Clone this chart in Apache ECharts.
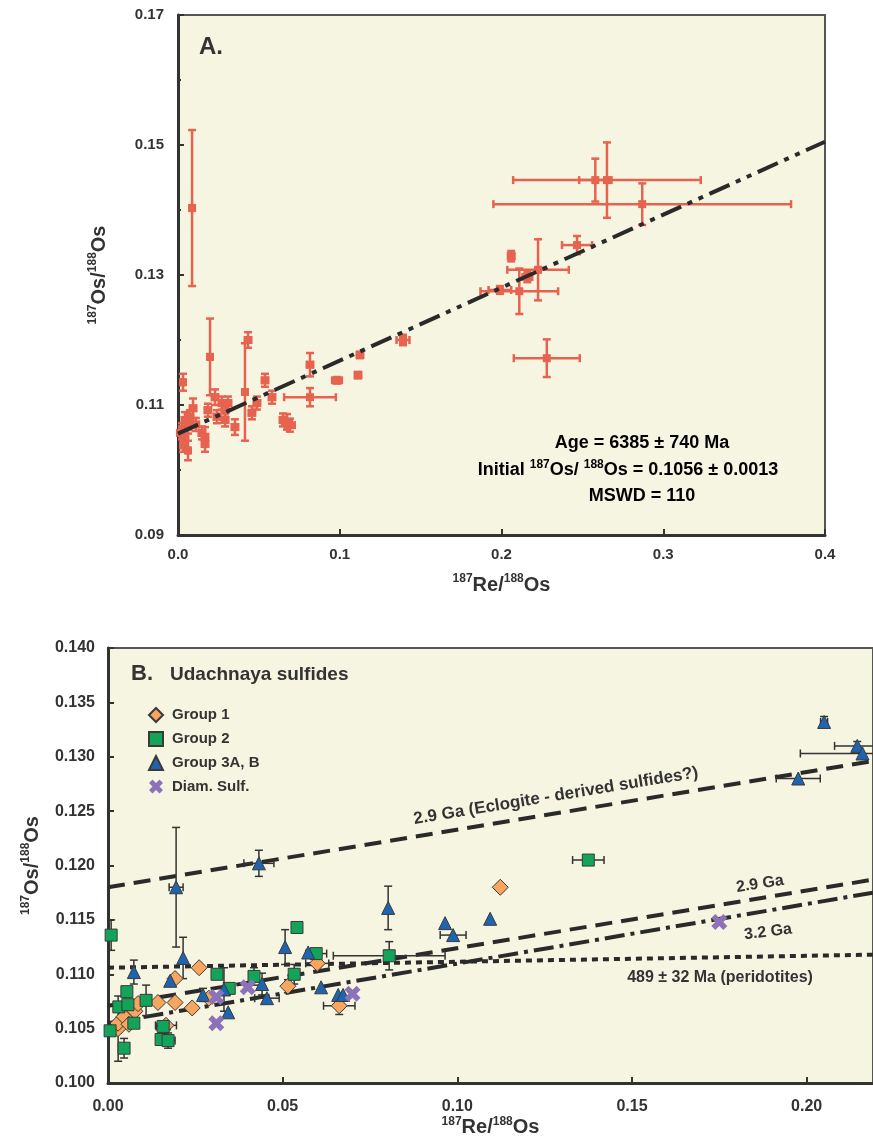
<!DOCTYPE html>
<html>
<head>
<meta charset="utf-8">
<script src="https://cdn.jsdelivr.net/npm/echarts@6/dist/echarts.min.js"></script>
<style>
html, body { margin: 0; padding: 0; background: #fff; }
#main { width: 873px; height: 1141px; }
</style>
</head>
<body>
<div id="main"></div>
<script>
// ---- panel A: [187Re/188Os, 187Os/188Os, xerr, yerr] ----
var pointsA = [
    [0.0087, 0.1403, 0.001, 0.012],
    [0.0198, 0.1174, 0.001, 0.0059],
    [0.0433, 0.1200, 0.002, 0.0012],
    [0.0414, 0.1120, 0.001, 0.0075],
    [0.0031, 0.1135, 0.001, 0.0013],
    [0.0093, 0.1095, 0.002, 0.0015],
    [0.0538, 0.1138, 0.002, 0.0010],
    [0.0581, 0.1112, 0.002, 0.0010],
    [0.0816, 0.1162, 0.002, 0.0018],
    [0.0816, 0.1112, 0.016, 0.0014],
    [0.0983, 0.1138, 0.003, 0.0005],
    [0.1125, 0.1177, 0.002, 0.0005],
    [0.1113, 0.1146, 0.002, 0.0005],
    [0.1391, 0.1200, 0.004, 0.0008],
    [0.0674, 0.1074, 0.003, 0.0012],
    [0.0692, 0.1069, 0.003, 0.0010],
    [0.0649, 0.1077, 0.002, 0.0010],
    [0.0488, 0.1103, 0.002, 0.0010],
    [0.0457, 0.1088, 0.002, 0.0010],
    [0.0309, 0.1103, 0.002, 0.0010],
    [0.0352, 0.1066, 0.002, 0.0012],
    [0.0291, 0.1077, 0.002, 0.0010],
    [0.0241, 0.1082, 0.002, 0.0010],
    [0.0185, 0.1092, 0.002, 0.0010],
    [0.0272, 0.1103, 0.002, 0.0010],
    [0.0229, 0.1112, 0.002, 0.0012],
    [0.0291, 0.1092, 0.002, 0.0010],
    [0.0043, 0.1077, 0.002, 0.0012],
    [0.0025, 0.1062, 0.002, 0.0010],
    [0.0062, 0.1066, 0.002, 0.0010],
    [0.0148, 0.1057, 0.002, 0.0010],
    [0.0167, 0.1051, 0.002, 0.0015],
    [0.0167, 0.1040, 0.002, 0.0012],
    [0.0043, 0.1051, 0.002, 0.0010],
    [0.0031, 0.1038, 0.001, 0.0010],
    [0.0062, 0.1030, 0.001, 0.0015],
    [0.0012, 0.1057, 0.001, 0.0010],
    [0.0074, 0.1082, 0.002, 0.0010],
    [0.0110, 0.1070, 0.002, 0.0010],
    [0.2652, 0.1446, 0.058, 0.0058],
    [0.2580, 0.1446, 0.010, 0.0033],
    [0.2870, 0.1409, 0.092, 0.0032],
    [0.2467, 0.1346, 0.0093, 0.0014],
    [0.2060, 0.1329, 0.002, 0.0008],
    [0.2226, 0.1308, 0.019, 0.0047],
    [0.2110, 0.1275, 0.024, 0.0035],
    [0.2160, 0.1297, 0.003, 0.0008],
    [0.1990, 0.1277, 0.007, 0.0006],
    [0.2280, 0.1172, 0.0204, 0.0029]
];
var isochronA = [[0, 0.1056], [0.4, 0.1505]];
var xTicksA = [0, 0.1, 0.2, 0.3, 0.4];
var yTicksA = [0.09, 0.11, 0.13, 0.15, 0.17];

// ---- panel B: [187Re/188Os, 187Os/188Os, xerr, yerr] ----
var group1 = [
    [0.0029, 0.1050, 0, 0.0030],
    [0.0029, 0.1055, 0, 0],
    [0.0046, 0.1061, 0, 0],
    [0.0060, 0.1054, 0, 0],
    [0.0077, 0.1066, 0, 0],
    [0.0086, 0.1073, 0, 0],
    [0.0143, 0.1074, 0, 0],
    [0.0192, 0.1074, 0, 0],
    [0.0241, 0.1069, 0, 0],
    [0.0166, 0.1053, 0.003, 0],
    [0.0192, 0.1096, 0, 0],
    [0.0261, 0.1106, 0, 0],
    [0.0289, 0.1078, 0, 0],
    [0.0515, 0.1089, 0, 0.0006],
    [0.0599, 0.1110, 0.0033, 0],
    [0.0662, 0.1071, 0.0045, 0.0008],
    [0.1123, 0.1180, 0.001, 0]
];
var group2 = [
    [0.0009, 0.1136, 0, 0.0014],
    [0.0006, 0.1048, 0, 0],
    [0.0054, 0.1084, 0, 0],
    [0.0031, 0.1070, 0, 0],
    [0.0057, 0.1072, 0, 0],
    [0.0109, 0.1076, 0, 0.0014],
    [0.0074, 0.1055, 0, 0],
    [0.0046, 0.1032, 0, 0.0009],
    [0.0158, 0.1052, 0.002, 0],
    [0.0152, 0.1040, 0, 0],
    [0.0172, 0.1039, 0.002, 0.0007],
    [0.0312, 0.1100, 0, 0],
    [0.0347, 0.1087, 0, 0],
    [0.0418, 0.1098, 0, 0.0008],
    [0.0533, 0.1100, 0, 0.0009],
    [0.0541, 0.1143, 0, 0],
    [0.0596, 0.1119, 0.003, 0],
    [0.0805, 0.1117, 0.016, 0.0013],
    [0.1375, 0.1205, 0.0045, 0]
];
var group3 = [
    [0.0074, 0.1102, 0, 0.0011],
    [0.0195, 0.1180, 0.002, 0.0055],
    [0.0215, 0.1115, 0, 0.0019],
    [0.0432, 0.1202, 0.0043, 0.0012],
    [0.0178, 0.1094, 0, 0],
    [0.0272, 0.1081, 0, 0.0006],
    [0.0332, 0.1086, 0, 0.0020],
    [0.0344, 0.1065, 0, 0],
    [0.0441, 0.1091, 0, 0.0010],
    [0.0455, 0.1078, 0.0035, 0],
    [0.0507, 0.1125, 0, 0.0016],
    [0.0573, 0.1120, 0, 0],
    [0.0610, 0.1088, 0, 0],
    [0.0659, 0.1081, 0, 0],
    [0.0673, 0.1081, 0, 0],
    [0.0802, 0.1161, 0, 0.0020],
    [0.0965, 0.1147, 0, 0],
    [0.0988, 0.1136, 0.0037, 0],
    [0.1094, 0.1151, 0, 0],
    [0.2050, 0.1332, 0.001, 0.0005],
    [0.2145, 0.1310, 0.0065, 0.0004],
    [0.2160, 0.1303, 0.0178, 0],
    [0.1976, 0.1280, 0.0063, 0]
];
var diamSulf = [
    [0.0310, 0.1079],
    [0.0310, 0.1055],
    [0.0400, 0.1088],
    [0.0700, 0.1082],
    [0.1750, 0.1148]
];
var refEclogite29 = [[0, 0.1180], [0.219, 0.1296]];
var ref29 = [[0, 0.1071], [0.219, 0.1187]];
var ref32 = [[0, 0.1055], [0.219, 0.1175]];
var ref489 = [[0, 0.1106], [0.219, 0.1118]];
var xTicksB = [0, 0.05, 0.1, 0.15, 0.2];
var yTicksB = [0.100, 0.105, 0.110, 0.115, 0.120, 0.125, 0.130, 0.135, 0.140];

var chart = echarts.init(document.getElementById('main'));
var FONT = '"Liberation Sans", Arial, Helvetica, sans-serif';
var NARROW = '"Liberation Sans Narrow", "Liberation Sans", Arial, sans-serif';
var INK = '#333333';
var RED = '#e6634f';

// error bars with caps, drawn through the axes
function errorBars(color, width, cap) {
    return function (params, api) {
        var x = api.value(0), y = api.value(1), xe = api.value(2), ye = api.value(3);
        var c = api.coord([x, y]);
        var st = { stroke: color, lineWidth: width };
        var kids = [];
        if (ye > 0) {
            var t = api.coord([x, y + ye])[1], b = api.coord([x, y - ye])[1];
            kids.push({ type: 'line', shape: { x1: c[0], y1: t, x2: c[0], y2: b }, style: st });
            kids.push({ type: 'line', shape: { x1: c[0] - cap, y1: t, x2: c[0] + cap, y2: t }, style: st });
            kids.push({ type: 'line', shape: { x1: c[0] - cap, y1: b, x2: c[0] + cap, y2: b }, style: st });
        }
        if (xe > 0) {
            var l = api.coord([x - xe, y])[0], r = api.coord([x + xe, y])[0];
            kids.push({ type: 'line', shape: { x1: l, y1: c[1], x2: r, y2: c[1] }, style: st });
            kids.push({ type: 'line', shape: { x1: l, y1: c[1] - cap, x2: l, y2: c[1] + cap }, style: st });
            kids.push({ type: 'line', shape: { x1: r, y1: c[1] - cap, x2: r, y2: c[1] + cap }, style: st });
        }
        return { type: 'group', children: kids };
    };
}

var nameRich = {
    main: { fontFamily: FONT, fontWeight: 'bold', fontSize: 20, color: INK, lineHeight: 24 },
    sup: { fontFamily: FONT, fontWeight: 'bold', fontSize: 12, color: INK, lineHeight: 12, verticalAlign: 'top' }
};
var textRich = {
    n: { fontFamily: FONT, fontWeight: 'bold', fontSize: 18, color: INK, lineHeight: 22 },
    s: { fontFamily: FONT, fontWeight: 'bold', fontSize: 12, color: INK, lineHeight: 12, verticalAlign: 'top' }
};

function valueAxis(grid, ticks, step, digits, fontFamily, fontSize, margin, extra) {
    var ax = {
        gridIndex: grid,
        type: 'value',
        min: ticks[0],
        max: ticks[ticks.length - 1],
        interval: step,
        axisLine: { onZero: false, lineStyle: { color: INK, width: 3 } },
        axisTick: { inside: true, length: 6, lineStyle: { color: INK, width: 2 } },
        axisLabel: {
            formatter: function (v) { return v.toFixed(digits); },
            fontFamily: fontFamily, fontWeight: 'bold', fontSize: fontSize, color: INK, margin: margin
        },
        splitLine: { show: false },
        nameLocation: 'middle',
        nameTextStyle: { rich: nameRich }
    };
    for (var k in extra) ax[k] = extra[k];
    return ax;
}

var xMark = 'path://M0,2.5 L2.5,0 L5,2.5 L7.5,0 L10,2.5 L7.5,5 L10,7.5 L7.5,10 L5,7.5 L2.5,10 L0,7.5 L2.5,5 Z';

var option = {
    animation: false,
    backgroundColor: '#ffffff',
    grid: [
        { left: 178, top: 15, width: 647, height: 520, show: true, backgroundColor: '#f6f5e2', borderColor: '#555', borderWidth: 2 },
        { left: 108, top: 648, width: 765, height: 435, show: true, backgroundColor: '#f6f5e2', borderColor: '#555', borderWidth: 2 }
    ],
    xAxis: [
        valueAxis(0, xTicksA, 0.1, 1, FONT, 15, 12, {
            name: '{sup|187}{main|Re/}{sup|188}{main|Os}', nameGap: 38
        }),
        valueAxis(1, [xTicksB[0], 0.219], 0.05, 2, NARROW, 16, 16, {
            name: '{sup|187}{main|Re/}{sup|188}{main|Os}', nameGap: 32,
            axisLabel: {
                formatter: function (v) { return v.toFixed(2); }, showMaxLabel: false,
                fontFamily: NARROW, fontWeight: 'bold', fontSize: 16, color: INK, margin: 16
            }
        })
    ],
    yAxis: [
        valueAxis(0, yTicksA, 0.02, 2, FONT, 15, 14, {
            name: '{sup|187}{main|Os/}{sup|188}{main|Os}', nameGap: 67,
            minorTick: { show: true, splitNumber: 2, length: 3, lineStyle: { color: INK, width: 2 } }
        }),
        valueAxis(1, yTicksB, 0.005, 3, NARROW, 16, 13, {
            name: '{sup|187}{main|Os/}{sup|188}{main|Os}', nameGap: 64
        })
    ],
    legend: {
        data: ['Group 1', 'Group 2', 'Group 3A, B', 'Diam. Sulf.'],
        orient: 'vertical', left: 143, top: 702,
        itemWidth: 14, itemHeight: 14, itemGap: 8,
        selectedMode: false,
        textStyle: { fontFamily: FONT, fontWeight: 'bold', fontSize: 15, color: INK, lineHeight: 14, padding: [0, 0, 0, 4] }
    },
    graphic: [
        { type: 'text', x: 199, y: 47, style: { text: 'A.', fontFamily: FONT, fontWeight: 'bold', fontSize: 24, fill: INK, verticalAlign: 'middle' } },
        { type: 'text', x: 642, y: 443, style: { text: '{n|Age = 6385 ± 740 Ma}', rich: textRich, align: 'center', verticalAlign: 'middle' } },
        { type: 'text', x: 628, y: 470, style: { text: '{n|Initial }{s|187}{n|Os/ }{s|188}{n|Os = 0.1056 ± 0.0013}', rich: textRich, align: 'center', verticalAlign: 'middle' } },
        { type: 'text', x: 642, y: 496, style: { text: '{n|MSWD = 110}', rich: textRich, align: 'center', verticalAlign: 'middle' } },
        { type: 'text', x: 131, y: 674, style: { text: 'B.', fontFamily: FONT, fontWeight: 'bold', fontSize: 22, fill: INK, verticalAlign: 'middle' } },
        { type: 'text', x: 170, y: 675, style: { text: 'Udachnaya sulfides', fontFamily: FONT, fontWeight: 'bold', fontSize: 19, fill: INK, verticalAlign: 'middle' } },
        { type: 'text', x: 556, y: 796, rotation: 0.163, style: { text: '2.9 Ga (Eclogite - derived sulfides?)', fontFamily: FONT, fontWeight: 'bold', fontSize: 17, fill: INK, align: 'center', verticalAlign: 'middle' } },
        { type: 'text', x: 760, y: 884, rotation: 0.15, style: { text: '2.9 Ga', fontFamily: FONT, fontWeight: 'bold', fontSize: 16, fill: INK, align: 'center', verticalAlign: 'middle' } },
        { type: 'text', x: 768, y: 932, rotation: 0.12, style: { text: '3.2 Ga', fontFamily: FONT, fontWeight: 'bold', fontSize: 16, fill: INK, align: 'center', verticalAlign: 'middle' } },
        { type: 'text', x: 720, y: 978, style: { text: '489 ± 32 Ma (peridotites)', fontFamily: FONT, fontWeight: 'bold', fontSize: 16, fill: INK, align: 'center', verticalAlign: 'middle' } }
    ],
    series: [
        // panel A
        { name: 'errA', type: 'custom', xAxisIndex: 0, yAxisIndex: 0, data: pointsA, renderItem: errorBars(RED, 2.5, 4), clip: true, z: 2, silent: true },
        { name: 'A', type: 'scatter', xAxisIndex: 0, yAxisIndex: 0, data: pointsA, symbol: 'rect', symbolSize: 8, itemStyle: { color: RED, opacity: 1 }, z: 3, silent: true },
        { name: 'isochronA', type: 'line', xAxisIndex: 0, yAxisIndex: 0, data: isochronA, symbol: 'none', lineStyle: { color: '#2a2a2a', width: 4, type: [22, 7, 5, 7, 5, 7] }, z: 4, silent: true },

        // panel B reference lines
        { name: 'eclogite', type: 'line', xAxisIndex: 1, yAxisIndex: 1, data: refEclogite29, symbol: 'none', lineStyle: { color: '#2a2a2a', width: 4, type: [17, 9] }, z: 1, silent: true },
        { name: '2.9 Ga', type: 'line', xAxisIndex: 1, yAxisIndex: 1, data: ref29, symbol: 'none', lineStyle: { color: '#2a2a2a', width: 4, type: [17, 9] }, z: 1, silent: true },
        { name: '3.2 Ga', type: 'line', xAxisIndex: 1, yAxisIndex: 1, data: ref32, symbol: 'none', lineStyle: { color: '#2a2a2a', width: 4, type: [20, 6, 4, 6] }, z: 1, silent: true },
        { name: '489 Ma', type: 'line', xAxisIndex: 1, yAxisIndex: 1, data: ref489, symbol: 'none', lineStyle: { color: '#2a2a2a', width: 4, type: [6, 5] }, z: 1, silent: true },

        // panel B error bars
        { name: 'err1', type: 'custom', xAxisIndex: 1, yAxisIndex: 1, data: group1, renderItem: errorBars('#333', 1.5, 4), clip: true, z: 2, silent: true },
        { name: 'err2', type: 'custom', xAxisIndex: 1, yAxisIndex: 1, data: group2, renderItem: errorBars('#333', 1.5, 4), clip: true, z: 2, silent: true },
        { name: 'err3', type: 'custom', xAxisIndex: 1, yAxisIndex: 1, data: group3, renderItem: errorBars('#333', 1.5, 4), clip: true, z: 2, silent: true },

        // panel B markers
        { name: 'Group 1', type: 'scatter', xAxisIndex: 1, yAxisIndex: 1, data: group1, symbol: 'diamond', symbolSize: 16,
          itemStyle: { color: '#f7a55f', borderColor: '#3a3a3a', borderWidth: 1, opacity: 1 }, z: 5 },
        { name: 'Group 2', type: 'scatter', xAxisIndex: 1, yAxisIndex: 1, data: group2, symbol: 'rect', symbolSize: 12,
          itemStyle: { color: '#12a55a', borderColor: '#3a3a3a', borderWidth: 1, opacity: 1 }, z: 5 },
        { name: 'Group 3A, B', type: 'scatter', xAxisIndex: 1, yAxisIndex: 1, data: group3, symbol: 'triangle', symbolSize: 13,
          itemStyle: { color: '#1f64af', borderColor: '#3a3a3a', borderWidth: 1, opacity: 1 }, z: 5 },
        { name: 'Diam. Sulf.', type: 'scatter', xAxisIndex: 1, yAxisIndex: 1, data: diamSulf, symbol: xMark, symbolSize: 16,
          itemStyle: { color: '#8c73b9', opacity: 1 }, z: 5 }
    ]
};
option && chart.setOption(option);
</script>
</body>
</html>
